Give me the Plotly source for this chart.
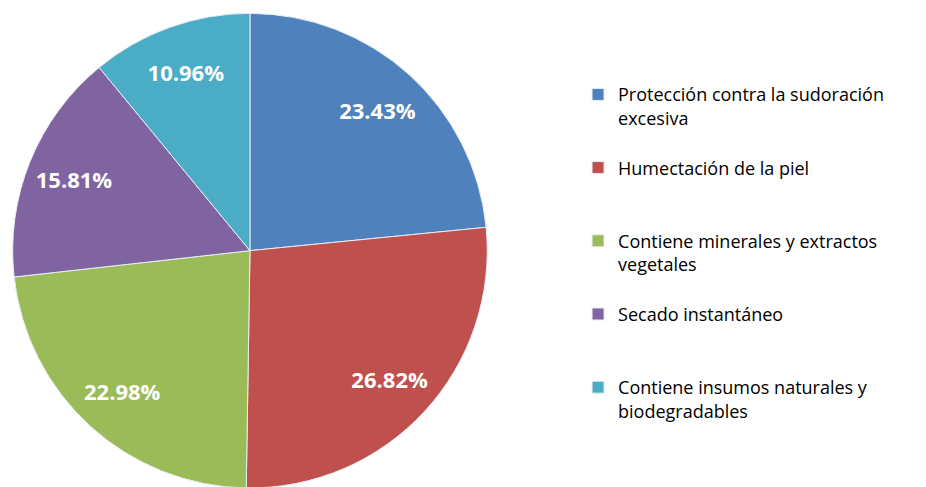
import plotly.graph_objects as go

labels = [
    "Protección contra la sudoración<br>excesiva<br> ",
    "Humectación de la piel<br> <br> ",
    "Contiene minerales y extractos<br>vegetales<br> ",
    "Secado instantáneo<br> <br> ",
    "Contiene insumos naturales y<br>biodegradables",
]
values = [23.43, 26.82, 22.98, 15.81, 10.96]
colors = ["#4F81BD", "#C0504D", "#9BBB59", "#8064A2", "#4BACC6"]

pie_domain = dict(x=[0.0022, 0.5204], y=[0.0144, 0.989])

fig = go.Figure()

# the visible pie
fig.add_trace(go.Pie(
    labels=labels, values=values, sort=False, direction="clockwise",
    marker=dict(colors=colors, line=dict(color="#E8EEF4", width=1)),
    textinfo="none", hoverinfo="label+value", showlegend=True,
    domain=pie_domain,
))

# invisible ring on top, only to carry the labels further out (like Excel)
fig.add_trace(go.Pie(
    labels=labels, values=values, sort=False, direction="clockwise",
    hole=0.6,
    marker=dict(colors=["rgba(0,0,0,0)"] * len(values), line=dict(width=0)),
    texttemplate="%{value:.2f}%",
    textposition="inside",
    insidetextorientation="horizontal",
    textfont=dict(family="Open Sans", size=22, color="white", weight="bold"),
    hoverinfo="skip", showlegend=False,
    domain=pie_domain,
))

fig.update_layout(
    width=926,
    height=487,
    margin=dict(l=0, r=0, t=0, b=0),
    paper_bgcolor="white",
    plot_bgcolor="white",
    showlegend=True,
    legend=dict(
        x=0.6156, y=0.86,
        xanchor="left", yanchor="top",
        valign="top",
        font=dict(family="Open Sans", size=18, color="#000000"),
        bgcolor="rgba(0,0,0,0)",
    ),
)

fig.write_html("out.html")
